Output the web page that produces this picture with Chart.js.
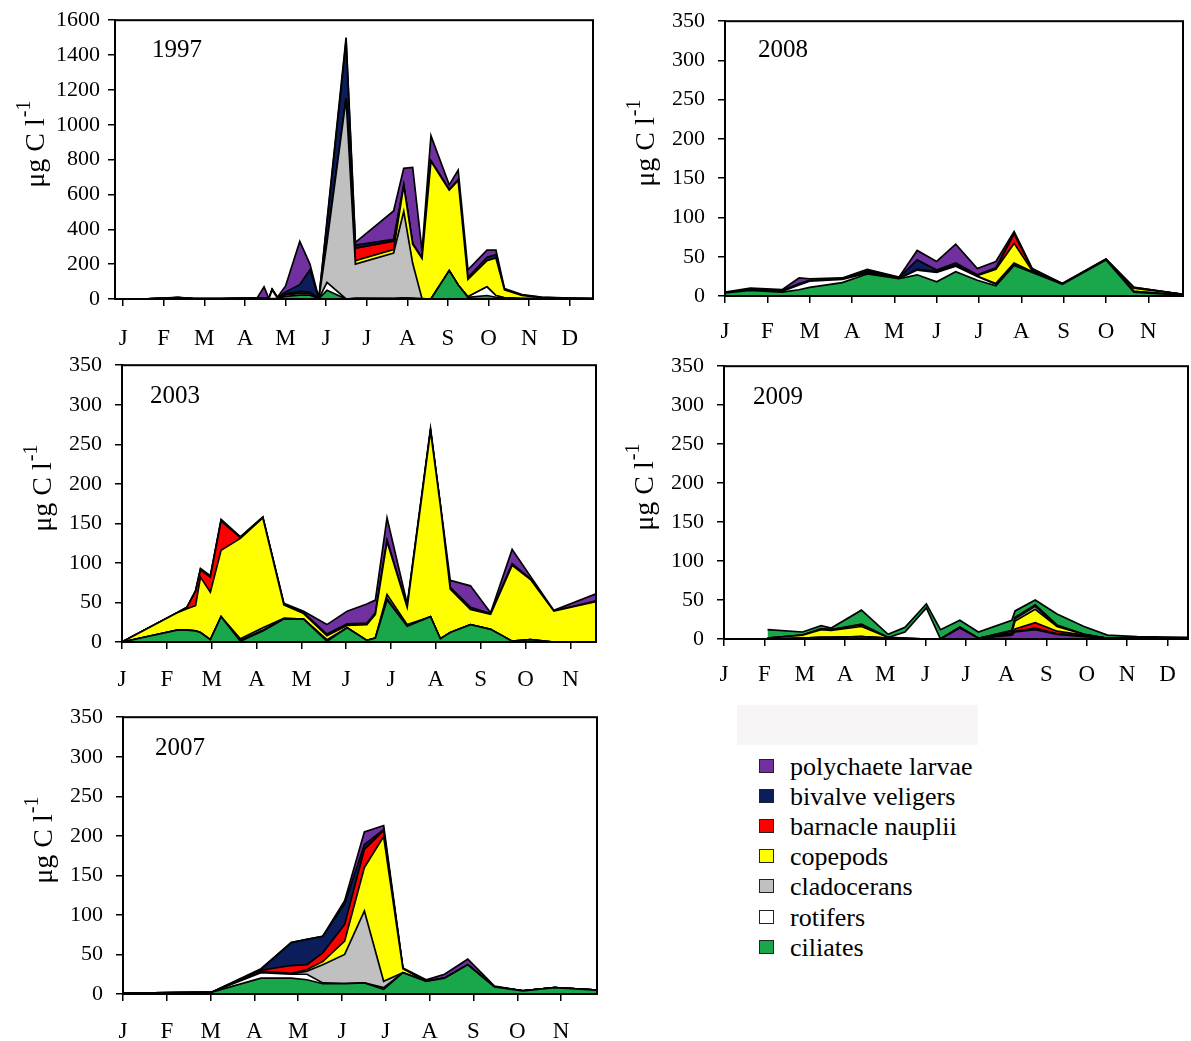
<!DOCTYPE html>
<html>
<head>
<meta charset="utf-8">
<script src="https://cdn.jsdelivr.net/npm/chart.js@4.4.0/dist/chart.umd.min.js"></script>
<style>
body { margin: 0; background: #fff; width: 1191px; height: 1041px; position: relative; overflow: hidden; font-family: "Liberation Serif", serif; }
.lg-row { position: absolute; height: 30px; line-height: 30px; font-size: 26px; color: #000; white-space: nowrap; }
.lg-box { position: absolute; width: 13px; height: 12px; border: 1.5px solid #222; }
</style>
</head>
<body>
<div style="position:absolute;left:737px;top:705px;width:241px;height:40px;background:#f7f5f5"></div>
<script>
var MONTHS = ['J', 'F', 'M', 'A', 'M', 'J', 'J', 'A', 'S', 'O', 'N', 'D'];
var NAMES = ['polychaete larvae', 'bivalve veligers', 'barnacle nauplii', 'copepods', 'cladocerans', 'rotifers', 'ciliates'];
var COLORS = ['#7030a0', '#0b1d5a', '#ff0000', '#ffff00', '#c0c0c0', '#ffffff', '#1aa64a'];

// x = months since 1 Jan (0 = J, 1 = F, ...)
// 1997
var t1997 = [0, 0.6, 1.35, 1.75, 2.4, 3.0, 3.3, 3.47, 3.59, 3.67, 3.8, 4.0, 4.35, 4.6, 4.82, 5.02, 5.49, 5.72, 6.66, 6.91, 7.13, 7.36, 7.58, 8.03, 8.25, 8.49, 8.96, 9.18, 9.39, 9.82, 10.3, 11.0, 11.57];
var cil1997 = [0, 1, 3, 1, 1, 2, 2, 2, 1, 2, 3, 15, 22, 22, 2, 50, 0, 2, 2, 5, 3, 0, 0, 163, 80, 10, 20, 10, 5, 2, 2, 1, 1];
var rot1997 = [0, 0, 1, 0, 0, 0, 0, 0, 0, 50, 2, 8, 10, 8, 0, 45, 0, 3, 2, 2, 2, 2, 0, 0, 0, 3, 50, 10, 2, 0, 0, 0, 0];
var cla1997 = [0, 0, 0, 0, 0, 0, 0, 0, 0, 0, 0, 0, 0, 0, 0, 230, 1150, 195, 260, 495, 200, 0, 0, 0, 0, 0, 0, 0, 0, 0, 0, 0, 0];
var cop1997 = [0, 0, 4, 1, 1, 2, 2, 2, 1, 2, 2, 6, 10, 8, 0, 0, 0, 20, 20, 148, 110, 230, 790, 462, 600, 100, 150, 215, 45, 18, 6, 3, 1];
var bar1997 = [0, 0, 0, 0, 0, 0, 0, 0, 0, 0, 0, 0, 0, 0, 0, 0, 0, 72, 48, 0, 0, 0, 0, 0, 0, 0, 0, 0, 0, 0, 0, 0, 0];
var biv1997 = [0, 0, 0, 0, 0, 0, 0, 1, 0, 1, 1, 12, 40, 130, 1, 110, 330, 18, 10, 5, 5, 5, 5, 5, 5, 10, 20, 20, 3, 2, 1, 0, 0];
var pol1997 = [0, 0, 2, 1, 0, 1, 2, 65, 1, 2, 2, 34, 248, 32, 0, 15, 20, 15, 163, 95, 435, 40, 142, 25, 55, 45, 40, 25, 5, 3, 2, 1, 0];

// 2008
var t2008 = [0, 0.6, 1.35, 1.75, 2.0, 2.77, 3.36, 4.11, 4.54, 5.0, 5.45, 5.96, 6.4, 6.83, 7.26, 7.97, 9.0, 9.66, 10.82];
var cil2008 = [4, 7, 5, 8, 11, 17, 28, 22, 27, 18, 31, 20, 13, 39, 30, 15, 46, 5, 1];
var rot2008 = [0, 1, 1, 6, 8, 4, 1, 0, 6, 12, 7, 5, 2, 2, 1, 0, 0, 1, 0];
var cla2008 = [0, 0, 0, 0, 0, 0, 0, 0, 0, 0, 0, 0, 1, 1, 0, 0, 0, 0, 0];
var cop2008 = [0, 0, 0, 0, 0, 0, 1, 0, 1, 1, 1, 1, 18, 25, 1, 0, 0, 4, 1];
var bar2008 = [0, 0, 0, 0, 0, 0, 0, 0, 0, 0, 0, 0, 1, 12, 1, 0, 0, 0, 0];
var biv2008 = [0, 1, 1, 2, 1, 1, 2, 1, 12, 2, 3, 1, 1, 1, 1, 1, 1, 1, 0];
var pol2008 = [1, 1, 1, 7, 2, 1, 2, 1, 12, 11, 24, 8, 8, 2, 1, 0, 0, 0, 0];

// 2003
var t2003 = [0, 1.23, 1.45, 1.64, 1.75, 1.97, 2.21, 2.64, 3.14, 3.61, 4.05, 4.57, 5.02, 5.46, 5.65, 5.91, 6.36, 6.88, 7.1, 7.32, 7.77, 8.22, 8.7, 9.11, 9.63, 10.57];
var cil2003 = [0, 15, 15, 14, 12, 3, 32, 1, 14, 29, 29, 1, 18, 2, 5, 53, 20, 32, 4, 12, 22, 16, 1, 3, 0, 0];
var rot2003 = [0, 0, 0, 0, 0, 0, 0, 1, 1, 1, 0, 1, 0, 0, 0, 2, 0, 0, 0, 0, 0, 0, 0, 0, 0, 0];
var cla2003 = [0, 0, 0, 0, 0, 0, 0, 2, 3, 0, 0, 1, 0, 0, 0, 5, 2, 0, 0, 0, 0, 0, 0, 0, 0, 0];
var cop2003 = [0, 22, 27, 32, 70, 60, 84, 127, 139, 17, 7, 5, 3, 20, 30, 67, 22, 235, 168, 55, 19, 19, 96, 76, 39, 51];
var bar2003 = [0, 0, 2, 18, 9, 19, 37, 1, 0, 0, 0, 0, 0, 0, 0, 0, 0, 0, 0, 0, 0, 0, 0, 0, 0, 0];
var biv2003 = [0, 0, 0, 0, 1, 1, 1, 1, 1, 1, 1, 2, 2, 2, 2, 2, 1, 1, 0, 2, 3, 1, 2, 1, 0, 1];
var pol2003 = [0, 0, 0, 1, 1, 1, 1, 0, 0, 1, 2, 12, 16, 24, 16, 28, 3, 2, 2, 9, 27, 1, 18, 3, 1, 9];

// 2009 (stacked the other way round in the figure)
var t2009 = [1.08, 1.95, 2.41, 2.66, 3.41, 4.07, 4.49, 5.02, 5.37, 5.85, 6.31, 7.14, 7.22, 7.72, 8.26, 8.93, 9.51, 10.25, 11.51];
var cil2009 = [11, 4, 4, 2, 18, 4, 6, 5, 12, 9, 8, 13, 8, 6, 14, 10, 4, 2, 2];
var rot2009 = [0, 0, 0, 0, 1, 0, 8, 40, 0, 0, 0, 1, 2, 2, 1, 0, 0, 0, 0];
var cla2009 = [0, 0, 1, 1, 2, 0, 0, 0, 0, 0, 0, 2, 3, 4, 1, 0, 0, 0, 0];
var cop2009 = [1, 4, 10, 9, 13, 1, 1, 0, 0, 1, 0, 1, 10, 17, 6, 1, 0, 0, 0];
var bar2009 = [0, 0, 0, 0, 0, 0, 0, 0, 0, 0, 0, 1, 3, 7, 3, 1, 0, 0, 0];
var biv2009 = [0, 0, 0, 0, 0, 0, 0, 0, 0, 0, 0, 1, 1, 2, 1, 1, 0, 0, 0];
var pol2009 = [0, 1, 2, 2, 3, 1, 0, 0, 0, 14, 1, 5, 9, 12, 6, 3, 1, 1, 0];

// 2007
var t2007 = [0, 2.01, 3.15, 3.84, 4.2, 4.56, 5.06, 5.51, 5.95, 6.39, 6.92, 7.34, 7.87, 8.48, 9.13, 9.85, 10.82];
var cil2007 = [1, 2, 20, 20, 18, 13, 13, 14, 6, 27, 16, 20, 37, 9, 4, 8, 5];
var rot2007 = [0, 0, 7, 5, 7, 1, 0, 0, 2, 0, 0, 0, 0, 0, 0, 0, 0];
var cla2007 = [0, 0, 1, 0, 4, 23, 37, 91, 8, 0, 0, 0, 0, 0, 0, 0, 0];
var cop2007 = [0, 0, 1, 1, 2, 4, 17, 55, 183, 5, 0, 0, 0, 0, 0, 0, 0];
var bar2007 = [0, 0, 1, 10, 6, 11, 21, 23, 8, 0, 0, 0, 0, 0, 0, 0, 0];
var biv2007 = [0, 0, 1, 29, 32, 21, 26, 6, 1, 0, 0, 0, 0, 0, 0, 0, 0];
var pol2007 = [0, 0, 1, 0, 0, 0, 4, 16, 5, 1, 2, 5, 7, 1, 0, 0, 0];

function drawPanel(p) {
    var W = p.box[2] - p.box[0] + 120, H = p.box[3] - p.box[1] + 70;
    var cv = document.createElement('canvas');
    cv.width = W; cv.height = H;
    cv.style.cssText = 'position:absolute;left:' + (p.box[0] - 100) + 'px;top:' + (p.box[1] - 20) + 'px';
    document.body.appendChild(cv);

    // bottom to top; series are listed in legend order
    var order = p.reverse ? [0, 1, 2, 3, 4, 5, 6] : [6, 5, 4, 3, 2, 1, 0];
    var datasets = order.map(function (k, i) {
        return {
            label: NAMES[k],
            data: p.t.map(function (x, j) { return { x: x, y: p.series[k][j] }; }),
            backgroundColor: COLORS[k],
            borderColor: '#000',
            borderWidth: 1.7,
            pointRadius: 0,
            tension: 0,
            fill: i === 0 ? 'origin' : '-1'
        };
    });

    var frame = {
        id: 'frame',
        afterDraw: function (chart) {
            var a = chart.chartArea, c = chart.ctx;
            c.save();
            c.strokeStyle = '#000';
            c.lineWidth = 2;
            c.strokeRect(a.left, a.top, a.right - a.left, a.bottom - a.top);
            c.fillStyle = '#000';
            c.font = '25px "Liberation Serif"';
            c.textBaseline = 'middle';
            c.textAlign = 'left';
            c.fillText(p.year, a.left + p.yearPos[0], a.top + p.yearPos[1]);
            // y axis title with superscript
            c.translate(a.left - 80, (a.top + a.bottom) / 2 - 15);
            c.rotate(-Math.PI / 2);
            c.textBaseline = 'alphabetic';
            c.font = '28px "Liberation Serif"';
            var w1 = c.measureText('\u03bcg C l').width;
            c.font = '20px "Liberation Serif"';
            var w2 = c.measureText('-1').width;
            var x0 = -(w1 + w2) / 2;
            c.font = '28px "Liberation Serif"';
            c.fillText('\u03bcg C l', x0, 9);
            c.font = '20px "Liberation Serif"';
            c.fillText('-1', x0 + w1 + 1, 9 - 14);
            c.restore();
        }
    };

    var chart = new Chart(cv, {
        type: 'line',
        data: { datasets: datasets },
        options: {
            responsive: false,
            maintainAspectRatio: false,
            animation: false,
            devicePixelRatio: 1,
            layout: { padding: { top: 20, right: 20, left: 0, bottom: 0 } },
            plugins: { legend: { display: false }, tooltip: { enabled: false } },
            scales: {
                x: {
                    type: 'linear',
                    min: p.xmin,
                    max: p.xmax,
                    afterBuildTicks: function (s) {
                        s.ticks = [0, 1, 2, 3, 4, 5, 6, 7, 8, 9, 10, 11]
                            .filter(function (v) { return v >= p.xmin - 1e-9 && v <= p.xmax; })
                            .map(function (v) { return { value: v }; });
                    },
                    afterFit: function (s) { s.height = 50; },
                    ticks: {
                        autoSkip: false, maxRotation: 0, padding: p.xpad, color: '#000',
                        font: { family: 'Liberation Serif', size: 23 },
                        callback: function (v) { return MONTHS[v]; }
                    },
                    grid: { drawOnChartArea: false, drawTicks: true, tickLength: 7, color: '#000', lineWidth: 1.5 },
                    border: { display: true, color: '#000', width: 2 }
                },
                y: {
                    stacked: true,
                    min: 0,
                    max: p.ymax,
                    afterFit: function (s) { s.width = 100; },
                    ticks: {
                        stepSize: p.ystep, padding: p.ypad, color: '#000',
                        font: { family: 'Liberation Serif', size: 22 },
                        callback: function (v) { return String(v); }
                    },
                    grid: { drawOnChartArea: false, drawTicks: true, tickLength: 7, color: '#000', lineWidth: 1.5 },
                    border: { display: true, color: '#000', width: 2 }
                }
            }
        },
        plugins: [frame]
    });

    // move/resize the canvas so that the plot area lands exactly on p.box
    for (var pass = 0; pass < 3; pass++) {
        var a = chart.chartArea;
        var dw = Math.round((p.box[2] - p.box[0]) - (a.right - a.left));
        var dh = Math.round((p.box[3] - p.box[1]) - (a.bottom - a.top));
        cv.style.left = Math.round(p.box[0] - a.left) + 'px';
        cv.style.top = Math.round(p.box[1] - a.top) + 'px';
        if (dw === 0 && dh === 0) break;
        chart.resize(chart.width + dw, chart.height + dh);
    }
}

drawPanel({ year: '1997', box: [115, 20, 593, 299], xmin: -0.2, xmax: 11.57, ymax: 1600, ystep: 200, xpad: 19, ypad: 8, yearPos: [37, 30],
    t: t1997, series: [pol1997, biv1997, bar1997, cop1997, cla1997, rot1997, cil1997] });
drawPanel({ year: '2008', box: [725, 21, 1183, 296], xmin: 0, xmax: 10.82, ymax: 350, ystep: 50, xpad: 15, ypad: 13, yearPos: [33, 29],
    t: t2008, series: [pol2008, biv2008, bar2008, cop2008, cla2008, rot2008, cil2008] });
drawPanel({ year: '2003', box: [122, 365, 596, 642], xmin: 0, xmax: 10.57, ymax: 350, ystep: 50, xpad: 17, ypad: 13, yearPos: [28, 31],
    t: t2003, series: [pol2003, biv2003, bar2003, cop2003, cla2003, rot2003, cil2003] });
drawPanel({ year: '2009', box: [724, 366, 1188, 639], xmin: 0, xmax: 11.51, ymax: 350, ystep: 50, xpad: 15, ypad: 13, yearPos: [29, 31], reverse: true,
    t: t2009, series: [pol2009, biv2009, bar2009, cop2009, cla2009, rot2009, cil2009] });
drawPanel({ year: '2007', box: [123, 717, 597, 994], xmin: 0, xmax: 10.82, ymax: 350, ystep: 50, xpad: 17, ypad: 13, yearPos: [32, 31],
    t: t2007, series: [pol2007, biv2007, bar2007, cop2007, cla2007, rot2007, cil2007] });

// legend
NAMES.forEach(function (name, i) {
    var cy = 767 + i * 30.1;
    var row = document.createElement('div');
    row.className = 'lg-row';
    row.style.left = '759px';
    row.style.top = (cy - 15) + 'px';
    row.innerHTML = '<span class="lg-box" style="left:0;top:7px;background:' + COLORS[i] + '"></span>' +
        '<span style="position:absolute;left:31px;top:0">' + name + '</span>';
    document.body.appendChild(row);
});
</script>
</body>
</html>
